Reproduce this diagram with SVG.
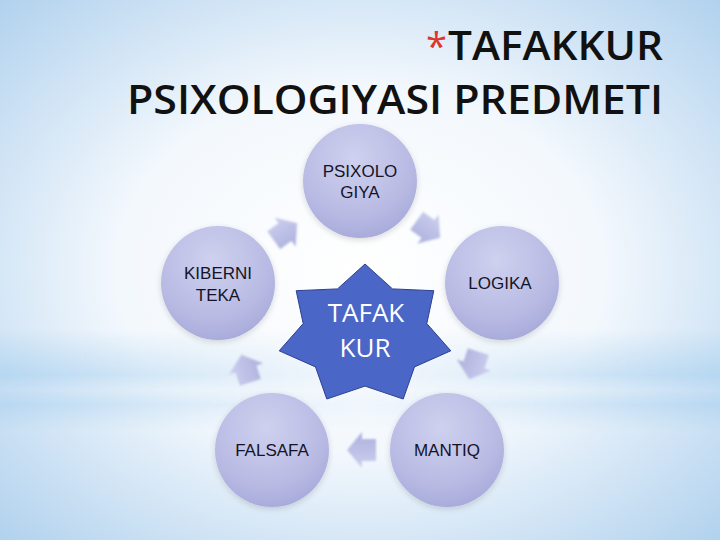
<svg xmlns="http://www.w3.org/2000/svg" width="720" height="540" viewBox="0 0 720 540">
  <defs>
    <radialGradient id="bg" cx="0.5" cy="0.5" r="0.75">
      <stop offset="0" stop-color="#ffffff"/>
      <stop offset="0.45" stop-color="#f3f8fd"/>
      <stop offset="1" stop-color="#a9cdec"/>
    </radialGradient>
    <linearGradient id="bandH" x1="0" y1="0" x2="1" y2="0">
      <stop offset="0" stop-color="#b4d6f1" stop-opacity="0.95"/>
      <stop offset="0.35" stop-color="#d6e8f7" stop-opacity="0.6"/>
      <stop offset="0.5" stop-color="#e6f0fa" stop-opacity="0.4"/>
      <stop offset="0.65" stop-color="#d6e8f7" stop-opacity="0.6"/>
      <stop offset="1" stop-color="#b4d6f1" stop-opacity="0.95"/>
    </linearGradient>
    <linearGradient id="bandV" x1="0" y1="0" x2="0" y2="1">
      <stop offset="0" stop-color="#fff" stop-opacity="0"/>
      <stop offset="0.45" stop-color="#fff" stop-opacity="1"/>
      <stop offset="0.6" stop-color="#fff" stop-opacity="0.4"/>
      <stop offset="0.75" stop-color="#fff" stop-opacity="0.9"/>
      <stop offset="1" stop-color="#fff" stop-opacity="0"/>
    </linearGradient>
    <mask id="bandMask">
      <rect x="0" y="330" width="720" height="100" fill="url(#bandV)"/>
    </mask>
    <radialGradient id="circ" cx="0.45" cy="0.3" r="0.75">
      <stop offset="0" stop-color="#cfd1ef"/>
      <stop offset="0.7" stop-color="#b7b9e3"/>
      <stop offset="1" stop-color="#a5a8d8"/>
    </radialGradient>
    <linearGradient id="arr" x1="0" y1="0" x2="0" y2="1">
      <stop offset="0" stop-color="#cdd0ee"/>
      <stop offset="1" stop-color="#adb0dd"/>
    </linearGradient>
    <filter id="soft" x="-30%" y="-30%" width="160%" height="160%">
      <feGaussianBlur stdDeviation="0.8"/>
    </filter>
    <filter id="shadow" x="-20%" y="-20%" width="140%" height="140%">
      <feGaussianBlur in="SourceAlpha" stdDeviation="3"/>
      <feOffset dx="0" dy="2"/>
      <feComponentTransfer><feFuncA type="linear" slope="0.15"/></feComponentTransfer>
      <feMerge><feMergeNode/><feMergeNode in="SourceGraphic"/></feMerge>
    </filter>
    <polygon id="blockArrow" points="-14,-11 0,-11 0,-18 15,0 0,18 0,11 -14,11"/>
  </defs>
  <style>
    .title { font-family: "Open Sans", "Liberation Sans", sans-serif; font-weight: 600; font-size: 39px; fill: #111111; }
    .ast { font-family: "Open Sans", "Liberation Sans", sans-serif; font-weight: 400; font-size: 38px; fill: #e0352b; }
    .node circle { fill: url(#circ); filter: url(#shadow); }
    .lbl { font-family: "Liberation Sans", Arial, sans-serif; font-size: 17px; fill: #141426; text-anchor: middle; }
    .star { fill: #4a66c6; stroke: #2e3f8e; stroke-width: 1; }
    .starTxt { font-family: "Open Sans", "Liberation Sans", sans-serif; font-size: 26px; fill: #ffffff; text-anchor: middle; }
    .conn use { fill: url(#arr); filter: url(#soft); }
  </style>

  <rect width="720" height="540" fill="url(#bg)"/>
  <rect x="0" y="330" width="720" height="100" fill="url(#bandH)" mask="url(#bandMask)"/>

  <g id="title">
    <text class="ast" x="426" y="60">*</text>
    <text class="title" x="448" y="60" textLength="215" lengthAdjust="spacingAndGlyphs">TAFAKKUR</text>
    <text class="title" x="127" y="114" textLength="536" lengthAdjust="spacingAndGlyphs">PSIXOLOGIYASI PREDMETI</text>
  </g>

  <g id="connectors" class="conn">
    <use href="#blockArrow" transform="translate(428,229) rotate(36)"/>
    <use href="#blockArrow" transform="translate(474,365) rotate(108)"/>
    <use href="#blockArrow" transform="translate(362,450) rotate(180)"/>
    <use href="#blockArrow" transform="translate(246,369) rotate(-108)"/>
    <use href="#blockArrow" transform="translate(285,232) rotate(-36)"/>
  </g>

  <g id="node-psixologiya" class="node">
    <circle cx="360" cy="181" r="57"/>
    <text class="lbl"><tspan x="360" y="177">PSIXOLO</tspan><tspan x="360" y="198">GIYA</tspan></text>
  </g>
  <g id="node-logika" class="node">
    <circle cx="502" cy="283" r="57"/>
    <text class="lbl" x="500" y="289">LOGIKA</text>
  </g>
  <g id="node-mantiq" class="node">
    <circle cx="447" cy="450" r="57"/>
    <text class="lbl" x="447" y="456">MANTIQ</text>
  </g>
  <g id="node-falsafa" class="node">
    <circle cx="272" cy="450" r="57"/>
    <text class="lbl" x="272" y="456">FALSAFA</text>
  </g>
  <g id="node-kiberniteka" class="node">
    <circle cx="218" cy="283" r="57"/>
    <text class="lbl"><tspan x="218" y="279">KIBERNI</tspan><tspan x="218" y="301">TEKA</tspan></text>
  </g>

  <g id="node-tafakkur">
    <polygon class="star" points="365,264 392.5,288.9 433.8,290.7 426.8,323.6 450.8,350.8 414.5,366.9 403.2,399 365,386.1 326.8,399 315.5,366.9 279.2,350.8 303.2,323.6 296.2,290.7 337.5,288.9"/>
    <text class="starTxt"><tspan x="366" y="322">TAFAK</tspan><tspan x="365" y="357">KUR</tspan></text>
  </g>
</svg>
